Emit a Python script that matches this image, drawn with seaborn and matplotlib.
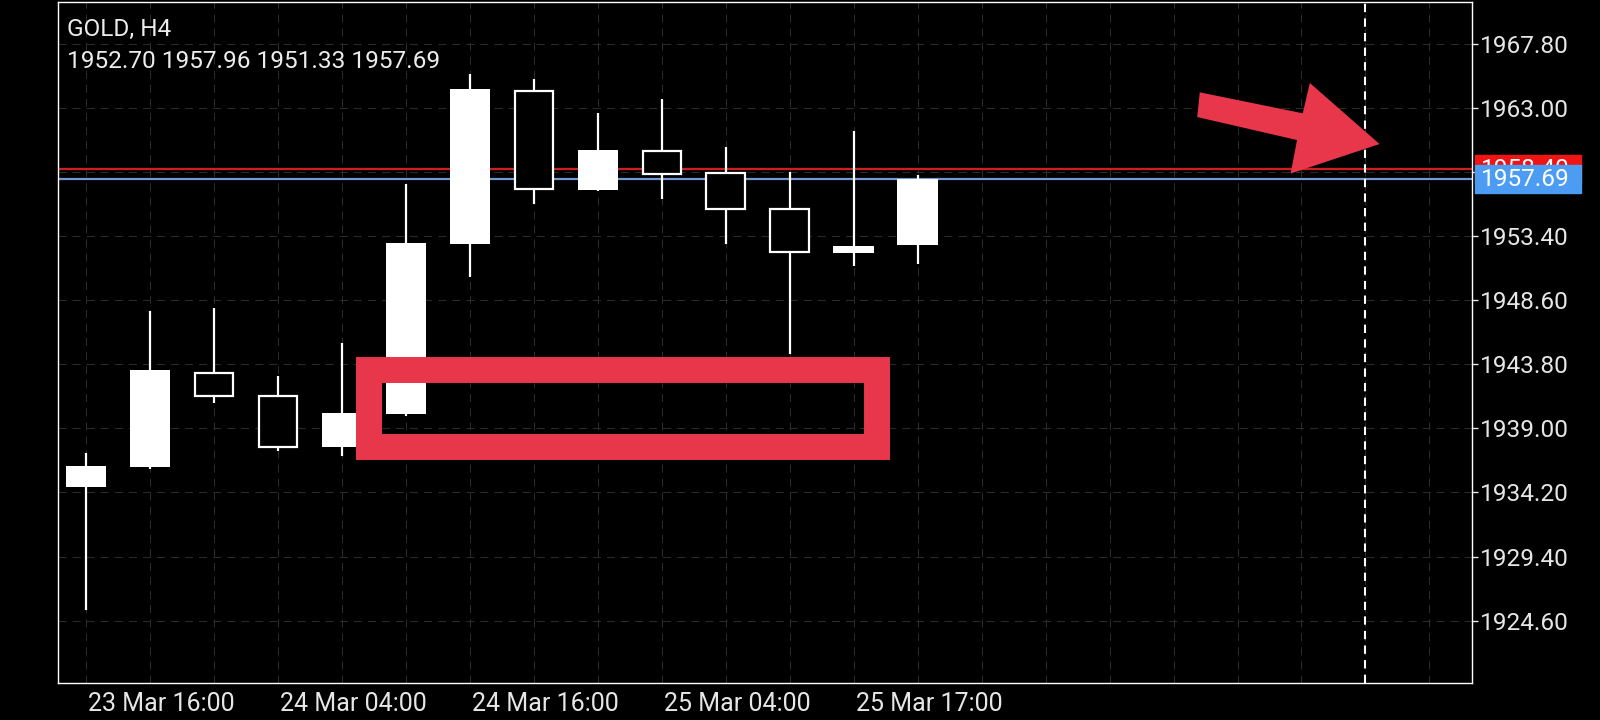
import numpy as np
import pandas as pd
import seaborn as sns
import matplotlib.pyplot as plt
import matplotlib.transforms as mtransforms
from matplotlib.patches import Rectangle, Polygon

# GOLD H4 candles, oldest first
opens = [1934.63, 1936.08, 1943.12, 1941.44, 1937.58, 1940.05, 1952.77,
         1964.27, 1956.86, 1959.78, 1958.09, 1955.41, 1952.14, 1952.70]
highs = [1937.13, 1947.78, 1947.98, 1942.91, 1945.36, 1957.26, 1965.50,
         1965.12, 1962.58, 1963.63, 1960.03, 1958.16, 1961.25, 1957.96]
lows = [1925.38, 1935.95, 1940.87, 1937.32, 1936.93, 1939.95, 1950.35,
        1955.77, 1956.76, 1956.14, 1952.77, 1944.60, 1951.17, 1951.33]
closes = [1936.18, 1943.36, 1941.42, 1937.58, 1940.12, 1952.85, 1964.37,
          1956.93, 1959.83, 1958.03, 1955.41, 1952.20, 1952.65, 1957.69]

x_tick_pos = [0, 3, 6, 9, 12]
x_tick_labels = ["23 Mar 16:00", "24 Mar 04:00", "24 Mar 16:00",
                 "25 Mar 04:00", "25 Mar 17:00"]
y_ticks = [1924.60, 1929.40, 1934.20, 1939.00, 1943.80, 1948.60,
           1953.40, 1958.20, 1963.00, 1967.80]

bid_price = 1957.69
ask_price = 1958.40
period_sep = 20  # future bar where the dashed separator sits

# hand drawn markup on the screenshot (bar index, price)
box_x = [4.43, 12.37]
box_y = [1937.62, 1943.34]
arrow_x = [17.41, 19.02, 19.13, 20.22, 18.83, 18.93, 17.37]
arrow_y = [1964.15, 1962.58, 1964.85, 1960.28, 1958.07, 1960.58, 1962.30]

df = pd.DataFrame({'open': opens, 'high': highs, 'low': lows, 'close': closes})
df['idx'] = np.arange(len(df))
df['bull'] = df['close'] >= df['open']

sns.set_theme(style="dark", rc={
    'axes.facecolor': 'black',
    'figure.facecolor': 'black',
    'axes.edgecolor': 'white',
    'text.color': '#e6e6e6',
    'xtick.color': '#e6e6e6',
    'ytick.color': '#e6e6e6',
})
plt.rcParams['font.family'] = ['Roboto', 'DejaVu Sans']

FS = 17.6
MARKUP = '#e8364a'
GRID = dict(color='#2b2b2b', lw=0.75, ls=(0, (7.7, 5.8)), zorder=1)

fig = plt.figure(figsize=(16, 7.2), dpi=100)
ax = fig.add_axes([0.0361, 0.0518, 0.8837, 0.9454])

# wicks first, bodies on top
ax.vlines(df['idx'], df['low'], df['high'], color='white', lw=1.6, zorder=3)
body_w = 0.63
for _, r in df.iterrows():
    lo = min(r['open'], r['close'])
    hi = max(r['open'], r['close'])
    if r['bull']:
        ax.bar(r['idx'], hi - lo, bottom=lo, width=body_w, color='white',
               edgecolor='white', lw=0, zorder=4)
    else:
        ax.bar(r['idx'], hi - lo, bottom=lo, width=body_w - 0.03, color='black',
               edgecolor='white', lw=1.6, zorder=4)

ax.set_xlim(-0.44, 21.66)
ax.set_ylim(1919.96, 1970.91)

# grid
for v in y_ticks:
    ax.axhline(v, **GRID)
for i in range(22):
    ax.axvline(i, **GRID)
ax.grid(False)

# bid / ask lines
ax.axhline(ask_price, color='#d01e1e', lw=1.6, zorder=2)
ax.axhline(bid_price, color='#7596d4', lw=1.6, zorder=2)
ax.axvline(period_sep, color='white', lw=1.5, ls=(0, (4, 3)), zorder=2)

# axes / ticks (1958.20 sits under the price tags)
ax.yaxis.tick_right()
ax.set_yticks(y_ticks)
ax.set_yticklabels(["" if v == 1958.20 else f"{v:.2f}" for v in y_ticks], fontsize=FS)
ax.set_xticks(x_tick_pos)
ax.set_xticklabels(x_tick_labels, fontsize=18, ha='left')
ax.tick_params(axis='y', direction='out', length=4, width=1, pad=2, colors='#e6e6e6')
ax.tick_params(axis='x', direction='out', length=4, width=1, pad=3, colors='#e6e6e6')
offset = mtransforms.ScaledTranslation(2 / 100, 0, fig.dpi_scale_trans)
for lab in ax.get_xticklabels():
    lab.set_transform(lab.get_transform() + offset)
for s in ax.spines.values():
    s.set_color('white')
    s.set_linewidth(1.0)
    s.set_visible(True)

# price tags on the right scale, bid tag drawn over the ask tag
trans = mtransforms.blended_transform_factory(ax.transAxes, ax.transData)
z = 10
for price, col in [(ask_price, '#f01414'), (bid_price, '#4b9cf2')]:
    ax.add_patch(Rectangle((1.0023, price - 1.05), 0.0748, 2.1, transform=trans,
                           color=col, clip_on=False, zorder=z))
    ax.text(1.0065, price - 0.05, f"{price:.2f}", transform=trans, ha='left',
            va='center', color='white', fontsize=FS, zorder=z + 1, clip_on=False)
    z += 2

# markup: rectangle + arrow
ax.add_patch(Rectangle((box_x[0], box_y[0]), box_x[1] - box_x[0], box_y[1] - box_y[0],
                       fill=False, edgecolor=MARKUP, lw=18.7, joinstyle='miter',
                       zorder=8))
ax.add_patch(Polygon(np.column_stack([arrow_x, arrow_y]), closed=True,
                     color=MARKUP, lw=0, zorder=8))

fig.text(0.0417, 0.9504, "GOLD, H4", fontsize=FS, color='#ececec', va='baseline')
fig.text(0.0417, 0.9051, "1952.70 1957.96 1951.33 1957.69", fontsize=FS,
         color='#ececec', va='baseline')

fig.savefig('out.png', dpi=100, facecolor='black')
